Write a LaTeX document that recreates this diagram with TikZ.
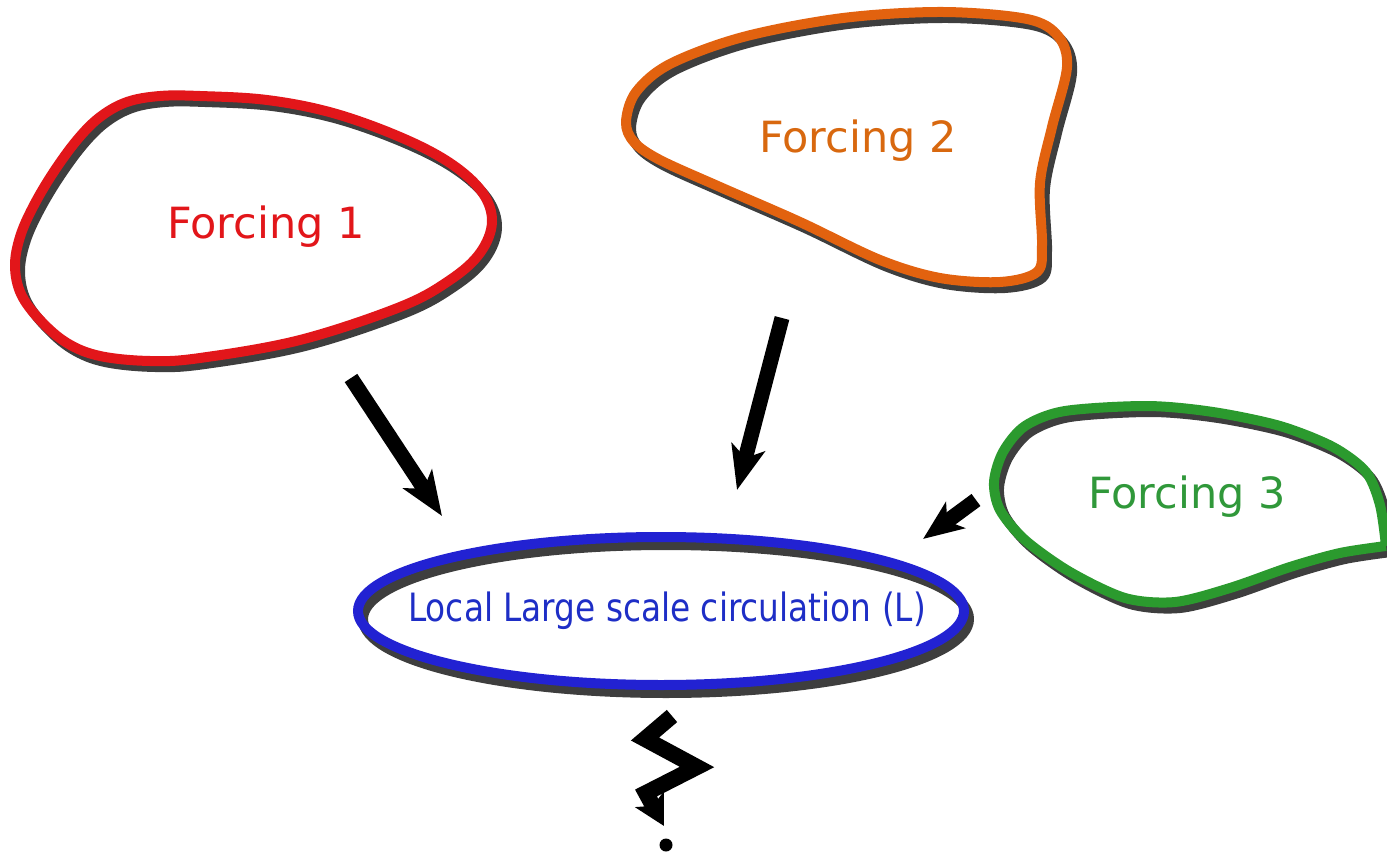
\documentclass[tikz,border=0pt]{standalone}
\usepackage{fontspec}
\setmainfont{DejaVu Sans}
\usetikzlibrary{arrows.meta,shapes.geometric}

\definecolor{fred}{HTML}{E2161A}
\definecolor{forange}{HTML}{E2620F}
\definecolor{forangetxt}{HTML}{D8680F}
\definecolor{fgreen}{HTML}{2B9A2E}
\definecolor{fgreentxt}{HTML}{30983A}
\definecolor{lblue}{HTML}{2222D2}
\definecolor{lbluetxt}{HTML}{1E2EC6}
\definecolor{shade}{HTML}{3E3E3E}

\tikzset{
  rim/.style={line width=10pt, line join=round},
  rimshadow/.style={rim, draw=shade},
  label/.style={font=\fontsize{43}{50}\selectfont, inner sep=0pt},
  push/.style={line width=15pt, -{Stealth[length=44pt, width=34pt, inset=11pt]}},
}

\begin{document}
\begin{tikzpicture}[x=1pt, y=-1pt]
\useasboundingbox (0,0) rectangle (1387,853);
\clip (0,0) rectangle (1387,853);

% outline of forcing 1
\def\blobA{plot[smooth cycle, tension=0.6] coordinates {
  (15,266) (20,237) (33,207) (53,173) (77,140) (100,117) (127,102)
  (160,96) (200,96) (267,100) (333,113) (400,137) (450,163) (482,192)
  (492,222) (480,253) (450,280) (400,307) (300,340) (200,358) (150,361)
  (100,356) (67,343) (40,320) (21,294)}}
% outline of forcing 2
\def\blobB{plot[smooth cycle, tension=0.55] coordinates {
  (626,122) (636,92) (670,64) (743,37) (843,18) (943,12) (1027,19)
  (1058,36) (1067,67) (1052,127) (1040,183) (1042,245) (1037,272)
  (1000,282) (940,278) (880,260) (800,222) (720,187) (660,160) (634,142)}}
% outline of forcing 3, running off the right edge
\def\blobC{plot[smooth, tension=0.5] coordinates {
  (1386,546) (1340,553) (1290,567) (1230,588) (1175,602) (1125,598)
  (1070,572) (1025,540) (1000,510) (994,482) (1003,452) (1025,426)
  (1065,411) (1147,406) (1213,412) (1280,426) (1333,447) (1366,472)
  (1380,505) (1386,546)}}

% shadows
\draw[rimshadow, shift={(5,6)}] \blobA;
\draw[rimshadow, shift={(5,6)}] \blobB;
\draw[rimshadow, shift={(5,6)}] \blobC;
\draw[rimshadow] (666,619) ellipse [x radius=303, y radius=74];

% coloured outlines
\draw[rim, draw=fred] \blobA;
\draw[rim, draw=forange] \blobB;
\draw[rim, draw=fgreen] \blobC;

% labels
\node[label, text=fred] (f1) at (266,227) {Forcing 1};
\node[label, text=forangetxt] (f2) at (858,141) {Forcing 2};
\node[label, text=fgreentxt] (f3) at (1187,497) {Forcing 3};

% central circulation
\node[ellipse, draw=lblue, line width=10pt, fill=none,
      minimum width=606pt, minimum height=148pt, inner sep=0pt] (L) at (661,611) {};
\node[font=\fontsize{39}{45}\selectfont, text=lbluetxt, xscale=0.84, inner sep=0pt]
  (Ltxt) at (667,611) {Local Large scale circulation (L)};

% arrows from each forcing towards L
\coordinate (a1s) at (351,378);
\coordinate (a1e) at (442,516);
\coordinate (a2s) at (782,318);
\coordinate (a2e) at (737,490);
\coordinate (a3s) at (976,500);
\coordinate (a3e) at (923,539);
\draw[push] (a1s) -- (a1e);
\draw[push] (a2s) -- (a2e);
\draw[push, -{Stealth[length=40pt, width=32pt, inset=10pt]}] (a3s) -- (a3e);

% zigzag response below L
\coordinate (z0) at (672,716);
\coordinate (z1) at (645,739);
\coordinate (z2) at (697,767);
\coordinate (z3) at (646,793);
\coordinate (z4) at (664,826);
\draw[line width=16pt, line join=miter, miter limit=10,
      -{Stealth[length=30pt, width=32pt, inset=7pt]}]
  (z0) -- (z1) -- (z2) -- (z3) -- (z4);
\fill (666,845) circle [radius=6.5];
\end{tikzpicture}
\end{document}
